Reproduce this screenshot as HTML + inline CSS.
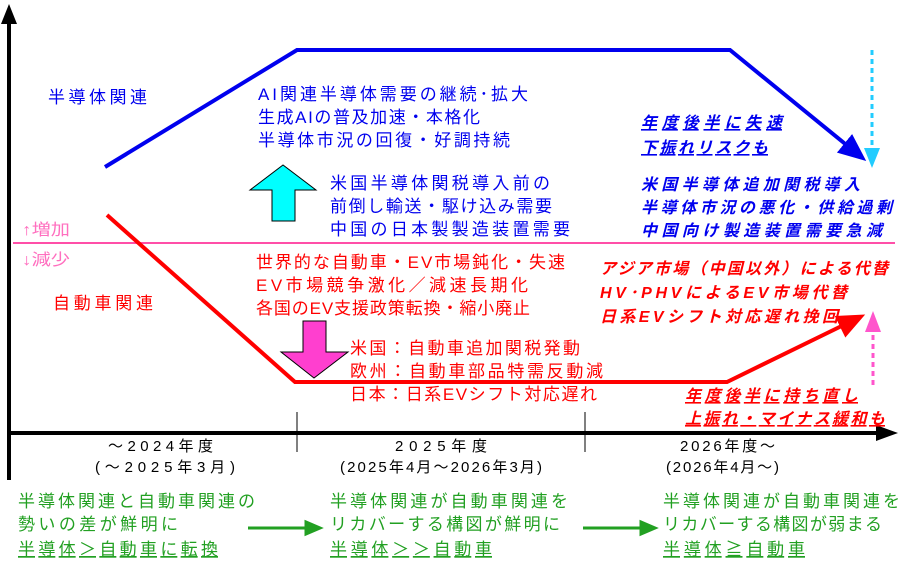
<!DOCTYPE html>
<html><head><meta charset="utf-8"><style>
body{margin:0;background:#fff}
svg{display:block}
text{font-family:"Liberation Sans","Noto Sans CJK JP",sans-serif}
</style></head><body>
<svg width="915" height="574" viewBox="0 0 915 574" xmlns="http://www.w3.org/2000/svg">
<defs>
<marker id="ab" markerWidth="7" markerHeight="6" refX="5" refY="3" orient="auto" markerUnits="strokeWidth"><path d="M0,0 L7,3 L0,6 z" fill="#0000ee"/></marker>
<marker id="ar" markerWidth="7" markerHeight="6" refX="5" refY="3" orient="auto" markerUnits="strokeWidth"><path d="M0,0 L7,3 L0,6 z" fill="#ff0000"/></marker>
</defs>
<line x1="9" y1="480" x2="9" y2="20" stroke="#000" stroke-width="4"/>
<path d="M1,24 L9,4 L17,24 z" fill="#000"/>
<line x1="9" y1="433" x2="880" y2="433" stroke="#000" stroke-width="4"/>
<path d="M876,425 L898,433 L876,441 z" fill="#000"/>
<line x1="297" y1="412" x2="297" y2="452" stroke="#000" stroke-width="1"/>
<line x1="585" y1="412" x2="585" y2="452" stroke="#000" stroke-width="1"/>
<line x1="13" y1="243" x2="895" y2="243" stroke="#ff4fa8" stroke-width="2"/>
<text x="22" y="235" font-size="16" fill="#ff6fbf" textLength="48" lengthAdjust="spacingAndGlyphs">↑増加</text>
<text x="22" y="265" font-size="16" fill="#ff6fbf" textLength="48" lengthAdjust="spacingAndGlyphs">↓減少</text>
<polyline points="105,167 297,50 730,50 860,156" fill="none" stroke="#0000ee" stroke-width="4" marker-end="url(#ab)"/>
<polyline points="107,215 295,382 727,382 858,318" fill="none" stroke="#ff0000" stroke-width="4" marker-end="url(#ar)"/>
<line x1="872" y1="50" x2="872" y2="148" stroke="#22ccff" stroke-width="3" stroke-dasharray="5,4"/>
<path d="M864,148 L880,148 L872,168 z" fill="#22ccff"/>
<line x1="873" y1="385" x2="873" y2="332" stroke="#ff55cc" stroke-width="3" stroke-dasharray="5,4"/>
<path d="M865,332 L881,332 L873,311 z" fill="#ff55cc"/>
<path d="M250,190 L283,165 L316,190 L295,190 L295,221 L272,221 L272,190 z" fill="#00ffff" stroke="#000" stroke-width="1"/>
<path d="M303,321 L326,321 L326,352 L348,352 L314,378 L281,352 L303,352 z" fill="#ff3fcf" stroke="#000" stroke-width="1"/>
<g lengthAdjust="spacingAndGlyphs">
<text x="48" y="103" font-size="17" fill="#0000ee" textLength="99">半導体関連</text>
<text x="53" y="309" font-size="17" fill="#ff0000" textLength="100">自動車関連</text>
<g font-size="17" fill="#0000ee">
<text x="258" y="100" textLength="270">AI関連半導体需要の継続･拡大</text>
<text x="258" y="123" textLength="222">生成AIの普及加速・本格化</text>
<text x="258" y="146" textLength="252">半導体市況の回復・好調持続</text>
<text x="330" y="189" textLength="220">米国半導体関税導入前の</text>
<text x="330" y="212" textLength="222">前倒し輸送・駆け込み需要</text>
<text x="330" y="235" textLength="240">中国の日本製製造装置需要</text>
</g>
<g font-size="17" fill="#ff0000">
<text x="256" y="268" textLength="309">世界的な自動車・EV市場鈍化・失速</text>
<text x="256" y="291" textLength="272">EV市場競争激化／減速長期化</text>
<text x="256" y="314" textLength="274">各国のEV支援政策転換・縮小廃止</text>
<text x="350" y="354" textLength="230">米国：自動車追加関税発動</text>
<text x="350" y="377" textLength="253">欧州：自動車部品特需反動減</text>
<text x="350" y="400" textLength="247">日本：日系EVシフト対応遅れ</text>
</g>
<g font-size="16" fill="#0000ee" font-style="italic" font-weight="bold">
<text x="641" y="128" text-decoration="underline" textLength="141">年度後半に失速</text>
<text x="641" y="153" text-decoration="underline" textLength="127">下振れリスクも</text>
<text x="641" y="190" textLength="219">米国半導体追加関税導入</text>
<text x="641" y="213" textLength="251">半導体市況の悪化・供給過剰</text>
<text x="641" y="236" textLength="241">中国向け製造装置需要急減</text>
</g>
<g font-size="16" fill="#ff0000" font-style="italic" font-weight="bold">
<text x="600" y="274" textLength="288">アジア市場（中国以外）による代替</text>
<text x="600" y="298" textLength="247">HV･PHVによるEV市場代替</text>
<text x="600" y="322" textLength="238">日系EVシフト対応遅れ挽回</text>
<text x="685" y="401" text-decoration="underline" textLength="173">年度後半に持ち直し</text>
<text x="685" y="424" text-decoration="underline" textLength="200">上振れ・マイナス緩和も</text>
</g>
<g font-size="15" fill="#000">
<text x="108" y="451" textLength="105">～2024年度</text>
<text x="95" y="472" textLength="140">(～2025年3月)</text>
<text x="395" y="451" textLength="92">2025年度</text>
<text x="340" y="472" textLength="202">(2025年4月～2026年3月)</text>
<text x="680" y="451" textLength="95">2026年度～</text>
<text x="666" y="472" textLength="113">(2026年4月～)</text>
</g>
<g font-size="17" fill="#22a022">
<text x="18" y="507" textLength="237">半導体関連と自動車関連の</text>
<text x="18" y="530" textLength="160">勢いの差が鮮明に</text>
<text x="18" y="555" text-decoration="underline" textLength="200">半導体＞自動車に転換</text>
<text x="330" y="507" textLength="238">半導体関連が自動車関連を</text>
<text x="330" y="530" textLength="230">リカバーする構図が鮮明に</text>
<text x="330" y="555" text-decoration="underline" textLength="162">半導体＞＞自動車</text>
<text x="663" y="507" textLength="237">半導体関連が自動車関連を</text>
<text x="663" y="530" textLength="219">リカバーする構図が弱まる</text>
<text x="663" y="555" text-decoration="underline" textLength="142">半導体≧自動車</text>
</g>
</g>
<g stroke="#22a022" stroke-width="3" fill="#22a022">
<line x1="248" y1="528" x2="308" y2="528"/><path d="M306,522 L320,528 L306,534 z"/>
<line x1="583" y1="528" x2="643" y2="528"/><path d="M641,522 L655,528 L641,534 z"/>
</g>
</svg>
</body></html>
